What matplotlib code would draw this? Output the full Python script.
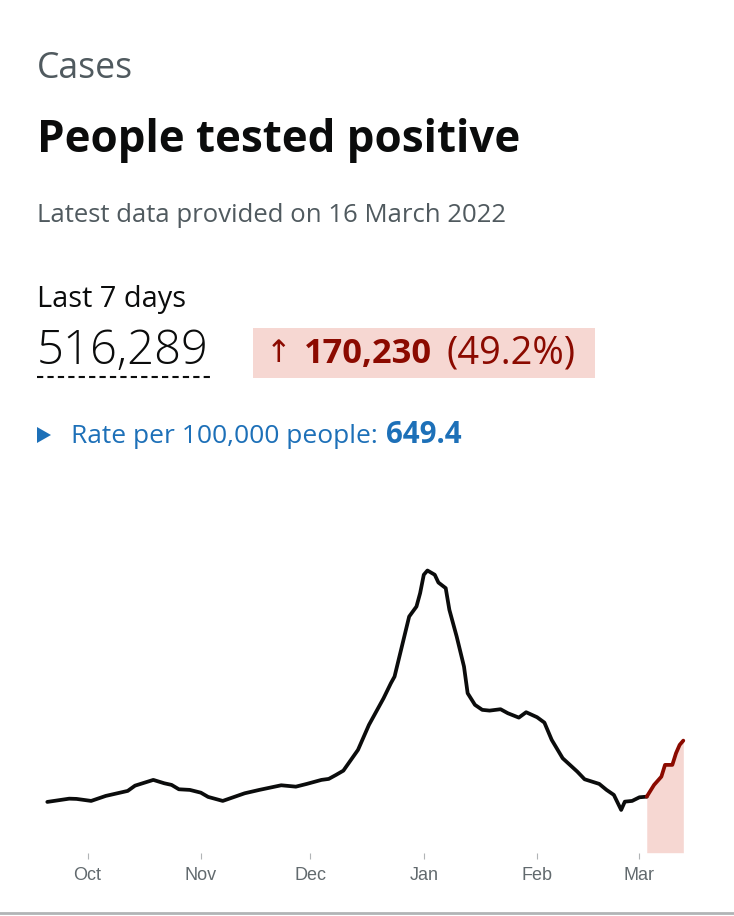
import matplotlib
matplotlib.use("Agg")
import matplotlib.pyplot as plt
from matplotlib.lines import Line2D
from matplotlib.patches import Rectangle, Polygon
import numpy as np
import datetime as dt

# data (people tested positive, by specimen date)
dates = ["2021-09-20", "2021-09-26", "2021-09-28", "2021-10-02", "2021-10-06",
         "2021-10-12", "2021-10-14", "2021-10-19", "2021-10-22", "2021-10-24",
         "2021-10-26", "2021-10-29", "2021-11-01", "2021-11-03", "2021-11-07",
         "2021-11-13", "2021-11-17", "2021-11-23", "2021-11-27", "2021-11-30",
         "2021-12-04", "2021-12-06", "2021-12-08", "2021-12-10", "2021-12-14",
         "2021-12-17", "2021-12-21", "2021-12-23", "2021-12-24", "2021-12-26",
         "2021-12-28", "2021-12-30", "2021-12-31", "2022-01-01", "2022-01-02",
         "2022-01-04", "2022-01-05", "2022-01-07", "2022-01-08", "2022-01-10",
         "2022-01-12", "2022-01-13", "2022-01-15", "2022-01-17", "2022-01-19",
         "2022-01-22", "2022-01-24", "2022-01-27", "2022-01-29", "2022-02-01",
         "2022-02-03", "2022-02-05", "2022-02-08", "2022-02-12", "2022-02-14",
         "2022-02-18", "2022-02-20", "2022-02-22", "2022-02-24", "2022-02-25",
         "2022-02-27", "2022-03-01", "2022-03-03", "2022-03-05", "2022-03-07",
         "2022-03-08", "2022-03-10", "2022-03-11", "2022-03-12", "2022-03-13"]
cases = [40600, 43200, 43000, 41400, 45400,
         49400, 53600, 58200, 55500, 54200,
         50700, 50200, 48000, 44600, 41400,
         47500, 50200, 53900, 52800, 55000,
         58200, 59000, 62200, 65600, 82200,
         102200, 123500, 135500, 140800, 164800,
         188800, 196800, 207500, 222200, 225600,
         222200, 216000, 211500, 194200, 172800,
         148800, 127500, 118200, 114200, 113600,
         114700, 111500, 108000, 112300, 108300,
         104000, 90200, 75500, 64800, 58700,
         55000, 50200, 46200, 34200, 40800,
         41400, 44300, 44800, 54200, 60800,
         70200, 70200, 79500, 86200, 89600]
recent_start = "2022-03-03"
month_ticks = ["2021-10-01", "2021-11-01", "2021-12-01", "2022-01-01", "2022-02-01", "2022-03-01"]
month_labels = ["Oct", "Nov", "Dec", "Jan", "Feb", "Mar"]

x = np.array([dt.datetime.strptime(d, "%Y-%m-%d") for d in dates])
y = np.array(cases)
rs = dt.datetime.strptime(recent_start, "%Y-%m-%d")
old = x <= rs
new = x >= rs

W, H = 734, 916
fig = plt.figure(figsize=(W / 100, H / 100), dpi=100)
renderer = fig.canvas.get_renderer()
FONT = ["Open Sans", "DejaVu Sans"]
GREY = "#505a5f"
RED = "#8b0a00"
PINK = "#f6d7d2"
BLUE = "#1d70b8"

def fx(px):
    return px / W

def fy(py):
    return 1 - py / H

def txt(px, py, s, size, color="#0b0c0c", weight="normal", width=None, family=FONT):
    # draw text at pixel pos (baseline), optionally fitted to a pixel width
    t = fig.text(fx(px), fy(py), s, fontsize=size, color=color, fontweight=weight,
                 family=family, va="baseline", ha="left")
    if width is not None:
        w = t.get_window_extent(renderer).width
        t.set_fontsize(size * width / w)
    return t

# header texts
txt(37, 78.5, "Cases", 22, GREY, width=96)
txt(37, 151.7, "People tested positive", 26, weight="bold", width=484)
txt(37, 222.3, "Latest data provided on 16 March 2022", 18, GREY, width=470)
txt(37, 307.5, "Last 7 days", 17, width=149)
txt(37, 364, "516,289", 30, weight="light", width=172)
fig.add_artist(Line2D([fx(37), fx(212)], [fy(376.5), fy(376.5)], color="#0b0c0c",
                      lw=1.5, linestyle=(0, (3, 2))))

# change box
fig.add_artist(Rectangle((fx(253), fy(378)), fx(342), 50 / H, color=PINK, lw=0))
txt(266, 362.5, "\u2191", 22, RED, family=["DejaVu Sans"])
txt(303.5, 363.3, "170,230", 19, RED, "bold", width=128)
txt(446, 363.3, "(49.2%)", 19, RED, width=129)

# rate line
fig.add_artist(Polygon([(fx(37), fy(427)), (fx(37), fy(443)), (fx(51), fy(435))],
                       closed=True, color=BLUE, lw=0))
txt(70.6, 442.7, "Rate per 100,000 people:", 17, BLUE, width=307)
txt(386, 442.7, "649.4", 17, BLUE, "bold", width=76)

# bottom rule
fig.add_artist(Line2D([0, 1], [fy(913), fy(913)], color="#b1b4b6", lw=2))

# chart
ax = fig.add_axes([fx(47.3), fy(852.7), fx(683.3 - 47.3), (852.7 - 560) / H])
ax.fill_between(x[new], 0, y[new], color=PINK, lw=0)
ax.plot(x[old], y[old], color="#0b0c0c", lw=2.7, solid_capstyle="round",
        solid_joinstyle="round", clip_on=False)
ax.plot(x[new], y[new], color=RED, lw=2.7, solid_capstyle="round",
        solid_joinstyle="round", clip_on=False)
ax.set_xlim(x[0], x[-1])
ax.set_ylim(0, 234000)
ax.set_xticks([dt.datetime.strptime(d, "%Y-%m-%d") for d in month_ticks])
ax.set_xticklabels(month_labels, family=["Liberation Sans"], fontsize=13, color="#626a6e")
ax.tick_params(axis="x", length=4, width=0.8, color="#b1b4b6", pad=6)
ax.set_yticks([])
for s in ax.spines.values():
    s.set_visible(False)

fig.savefig("out.png", dpi=100)
